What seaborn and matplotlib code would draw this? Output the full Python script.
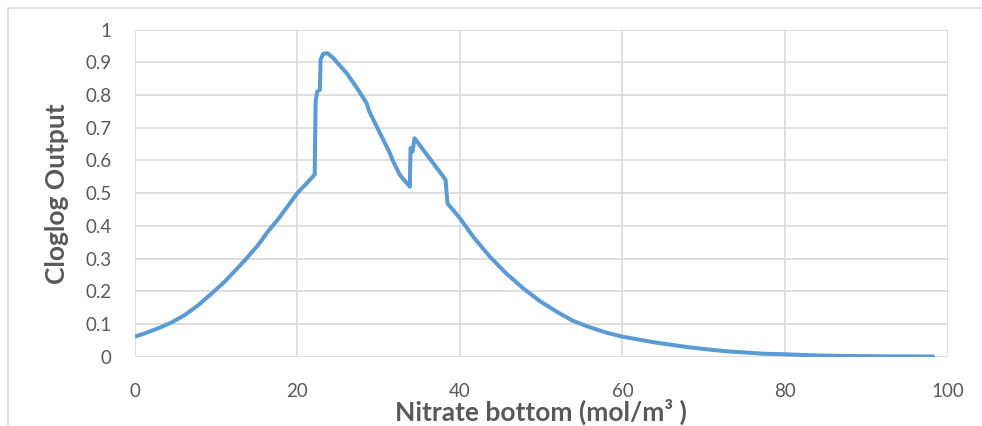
import matplotlib
matplotlib.use("Agg")
import matplotlib.pyplot as plt
import seaborn as sns
import pandas as pd
from matplotlib.patches import Rectangle

nitrate = [0, 1.3, 2.9, 4.56, 6.2, 7.83, 9.5, 11.1, 13.6, 15.2, 16.4, 17.67, 18.5, 20,
           21.15, 22.15, 22.26, 22.46, 22.79, 22.87, 23.2, 23.73, 24.43, 26.07, 27.5,
           28.53, 28.86, 31.4, 31.8, 32.62, 33.85, 33.94, 34.18, 34.43, 37.95, 38.24,
           38.48, 40, 41.64, 43.69, 45.7, 47.8, 49.8, 51.9, 53.9, 56.0, 58.0, 60, 64.2,
           68.2, 71.1, 73.2, 75.2, 77.3, 80, 83.4, 87.5, 91.6, 98.2]
cloglog = [0.0615, 0.072, 0.087, 0.105, 0.128, 0.158, 0.194, 0.23, 0.296, 0.342, 0.383,
           0.421, 0.449, 0.5, 0.53, 0.557, 0.78, 0.811, 0.816, 0.908, 0.926, 0.928,
           0.913, 0.867, 0.816, 0.775, 0.75, 0.622, 0.597, 0.556, 0.52, 0.638, 0.627,
           0.668, 0.551, 0.541, 0.469, 0.424, 0.367, 0.306, 0.255, 0.209, 0.171, 0.138,
           0.110, 0.09, 0.074, 0.0615, 0.043, 0.029, 0.021, 0.016, 0.013, 0.0095,
           0.0077, 0.0045, 0.0025, 0.0015, 0.001]
x_ticks = [0, 20, 40, 60, 80, 100]
y_ticks = [0, 0.1, 0.2, 0.3, 0.4, 0.5, 0.6, 0.7, 0.8, 0.9, 1]
y_tick_labels = ["0", "0.1", "0.2", "0.3", "0.4", "0.5", "0.6", "0.7", "0.8", "0.9", "1"]

sns.set_theme(style="white")
plt.rcParams['font.family'] = ['Lato', 'DejaVu Sans']

df = pd.DataFrame({"x": nitrate, "y": cloglog})

W, H = 982, 426
fig = plt.figure(figsize=(W / 100, H / 100), dpi=100)
ax = fig.add_axes([134.6 / W, 1 - 356.8 / H, (947.7 - 134.6) / W, (356.8 - 29.6) / H])

grid_c = "#D9D9D9"
text_c = "#595959"

sns.lineplot(data=df, x="x", y="y", ax=ax, color="#5B9BD5", linewidth=2.9,
             sort=False, estimator=None, zorder=3)

ax.set_xlim(0, 100)
ax.set_ylim(0, 1)
ax.set_xticks(x_ticks)
ax.set_yticks(y_ticks)
ax.set_yticklabels(y_tick_labels)
ax.grid(True, color=grid_c, linewidth=1.2)
ax.set_axisbelow(True)
for s in ax.spines.values():
    s.set_visible(False)
ax.tick_params(axis="both", length=0, labelsize=13.5, colors=text_c)
ax.tick_params(axis="x", pad=19)
ax.tick_params(axis="y", pad=16.5)

ax.set_xlabel("Nitrate bottom (mol/m³ )", fontsize=19, fontweight="bold", color=text_c, labelpad=-1)
ax.set_ylabel("Cloglog Output", fontsize=19, fontweight="bold", color=text_c, labelpad=12)

# chart outer border (cropped at right and bottom)
fig.add_artist(Rectangle((7.5 / W, -0.1), 1.2, 1 - 7.5 / H + 0.1, transform=fig.transFigure,
                         fill=False, edgecolor="#D9D9D9", linewidth=1.2, clip_on=False))

fig.savefig("out.png", dpi=100, facecolor="white")
